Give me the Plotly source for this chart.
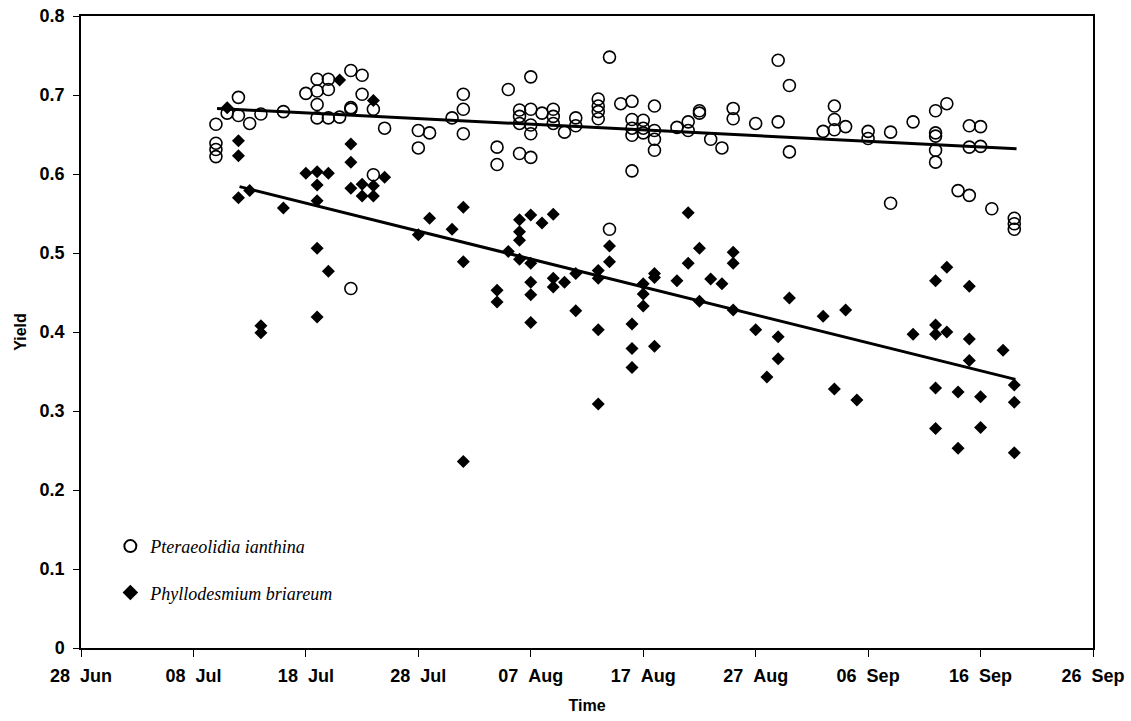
import pandas as pd
import plotly.graph_objects as go

# ---- data (days since 28 Jun, yield) ----
base_date = "2003-06-28"

pter_day = [12, 12, 12, 12, 13, 14, 14, 15, 16, 18, 20, 21, 21, 21, 21, 22, 22, 22, 23,
            24, 24, 24, 24, 25, 25, 26, 26, 27, 30, 30, 31, 33, 34, 34, 34, 37, 37, 38,
            39, 39, 39, 39, 40, 40, 40, 40, 40, 41, 42, 42, 42, 43, 44, 44, 46, 46, 46, 46,
            47, 47, 48, 49, 49, 49, 49, 49, 50, 50, 50, 51, 51, 51, 51, 53, 54, 54, 55, 55,
            56, 57, 58, 58, 60, 62, 62, 63, 63, 66, 67, 67, 67, 68, 70, 70, 72, 72, 74,
            76, 76, 76, 76, 76, 77, 78, 79, 79, 79, 80, 80, 81, 83, 83, 83]
pter_yield = [0.663, 0.639, 0.631, 0.622, 0.677, 0.697, 0.674, 0.664, 0.676, 0.679, 0.702,
              0.720, 0.705, 0.688, 0.671, 0.720, 0.707, 0.671, 0.672,
              0.731, 0.684, 0.682, 0.455, 0.725, 0.701, 0.682, 0.599, 0.658, 0.655, 0.633,
              0.652, 0.671, 0.701, 0.682, 0.651, 0.634, 0.612, 0.707,
              0.681, 0.673, 0.664, 0.626, 0.723, 0.682, 0.662, 0.651, 0.621, 0.677,
              0.682, 0.673, 0.664, 0.653, 0.671, 0.661, 0.695, 0.686, 0.679, 0.670,
              0.748, 0.530, 0.689, 0.692, 0.669, 0.658, 0.649, 0.604, 0.668, 0.658, 0.652,
              0.686, 0.655, 0.644, 0.630, 0.659, 0.666, 0.655, 0.680, 0.677,
              0.644, 0.633, 0.683, 0.670, 0.664, 0.744, 0.666, 0.712, 0.628, 0.654,
              0.686, 0.669, 0.656, 0.660, 0.654, 0.645, 0.653, 0.563, 0.666,
              0.680, 0.652, 0.648, 0.630, 0.615, 0.689, 0.579, 0.661, 0.634, 0.573,
              0.660, 0.635, 0.556, 0.544, 0.537, 0.530]

phyl_day = [13, 14, 14, 14, 15, 16, 16, 18, 20, 21, 21, 21, 21, 21, 22, 22, 23, 24, 24, 24,
            25, 25, 26, 26, 26, 27, 30, 31, 33, 34, 34, 34, 37, 37, 38, 39, 39, 39, 39,
            40, 40, 40, 40, 40, 41, 42, 42, 42, 43, 44, 44, 46, 46, 46, 46, 47, 47,
            49, 49, 49, 50, 50, 50, 51, 51, 51, 53, 54, 54, 55, 55, 56, 57, 58, 58, 58,
            60, 61, 62, 62, 63, 66, 67, 68, 69, 74, 76, 76, 76, 76, 76, 77, 77, 78, 78,
            79, 79, 79, 80, 80, 82, 83, 83, 83]
phyl_yield = [0.684, 0.642, 0.623, 0.570, 0.579, 0.408, 0.399, 0.557, 0.601,
              0.603, 0.586, 0.566, 0.506, 0.419, 0.601, 0.477, 0.719, 0.638, 0.615, 0.582,
              0.587, 0.572, 0.693, 0.585, 0.572, 0.596, 0.523, 0.544, 0.530, 0.558, 0.489,
              0.236, 0.453, 0.438, 0.502, 0.542, 0.527, 0.516, 0.492,
              0.548, 0.487, 0.463, 0.447, 0.412, 0.538, 0.549, 0.468, 0.457, 0.463,
              0.474, 0.427, 0.478, 0.468, 0.403, 0.309, 0.509, 0.489,
              0.410, 0.379, 0.355, 0.461, 0.448, 0.433, 0.474, 0.469, 0.382, 0.465,
              0.551, 0.487, 0.506, 0.439, 0.467, 0.461, 0.501, 0.487, 0.428,
              0.403, 0.343, 0.394, 0.366, 0.443, 0.420, 0.328, 0.428, 0.314, 0.397,
              0.465, 0.409, 0.397, 0.329, 0.278, 0.482, 0.400, 0.324, 0.253,
              0.458, 0.391, 0.364, 0.318, 0.279, 0.377, 0.333, 0.311, 0.247]

# trend lines (endpoints)
pter_trend_day = [12.1, 83.2]
pter_trend_yield = [0.683, 0.632]
phyl_trend_day = [14.1, 83.1]
phyl_trend_yield = [0.584, 0.340]

tick_days = [0, 10, 20, 30, 40, 50, 60, 70, 80, 90]
tick_labels = ["28  Jun", "08  Jul", "18  Jul", "28  Jul", "07  Aug",
               "17  Aug", "27  Aug", "06  Sep", "16  Sep", "26  Sep"]
y_ticks = [0, 0.1, 0.2, 0.3, 0.4, 0.5, 0.6, 0.7, 0.8]
y_labels = ["0", "0.1", "0.2", "0.3", "0.4", "0.5", "0.6", "0.7", "0.8"]

base = pd.Timestamp(base_date)
to_date = lambda days: [base + pd.Timedelta(days=d) for d in days]
bold = lambda labels: ["<b>" + s.replace(" ", "\u00a0") + "</b>" for s in labels]

fig = go.Figure()
fig.add_trace(go.Scatter(
    x=to_date(pter_trend_day), y=pter_trend_yield, mode="lines",
    line=dict(color="black", width=3), showlegend=False, hoverinfo="skip"))
fig.add_trace(go.Scatter(
    x=to_date(phyl_trend_day), y=phyl_trend_yield, mode="lines",
    line=dict(color="black", width=3), showlegend=False, hoverinfo="skip"))
fig.add_trace(go.Scatter(
    x=to_date(pter_day), y=pter_yield, mode="markers", name="Pteraeolidia ianthina",
    legendgroup="a",
    marker=dict(symbol="circle-open", size=12, color="black", line=dict(width=1.6, color="black"))))
fig.add_trace(go.Scatter(
    x=to_date(phyl_day), y=phyl_yield, mode="markers", name="Phyllodesmium briareum",
    legendgroup="b",
    marker=dict(symbol="diamond", size=10, color="black", line=dict(width=0))))

sans = "Liberation Sans, Arial, sans-serif"
axis_font = dict(family=sans, size=16, color="black")

fig.update_layout(
    width=1131, height=721,
    margin=dict(l=81, r=38, t=16, b=73),
    paper_bgcolor="white", plot_bgcolor="white",
    showlegend=True,
    legend=dict(
        x=0.029, y=0.19, xanchor="left", yanchor="top",
        font=dict(family="Liberation Serif, Times New Roman, serif", size=18, color="black", style="italic"),
        bgcolor="rgba(0,0,0,0)", traceorder="grouped", itemsizing="constant",
        tracegroupgap=20,
    ),
    xaxis=dict(
        range=[base, base + pd.Timedelta(days=90)], automargin=False,
        tickvals=to_date(tick_days), ticktext=bold(tick_labels),
        showline=True, linecolor="black", linewidth=1.5, mirror=True,
        ticks="outside", ticklen=7, tickcolor="black", tickwidth=1.2,
        showgrid=False, zeroline=False, ticklabelstandoff=4, ticklabeloverflow="allow",
        tickfont=dict(family=sans, size=18, color="black"),
        title=dict(text="<b>Time</b>", font=axis_font, standoff=14),
    ),
    yaxis=dict(
        range=[0, 0.8], automargin=False,
        tickvals=y_ticks, ticktext=bold(y_labels),
        showline=True, linecolor="black", linewidth=1.5, mirror=True,
        ticks="outside", ticklen=6, tickcolor="black", tickwidth=1.2,
        showgrid=False, zeroline=False, ticklabelstandoff=5, ticklabeloverflow="allow",
        tickfont=dict(family=sans, size=18, color="black"),
        title=dict(text="<b>Yield</b>", font=axis_font, standoff=9),
    ),
)

# remove the default page margin so the figure fills the window exactly
fig.write_html("out.html", config={"displayModeBar": False},
               post_script="document.body.style.margin='0';")
